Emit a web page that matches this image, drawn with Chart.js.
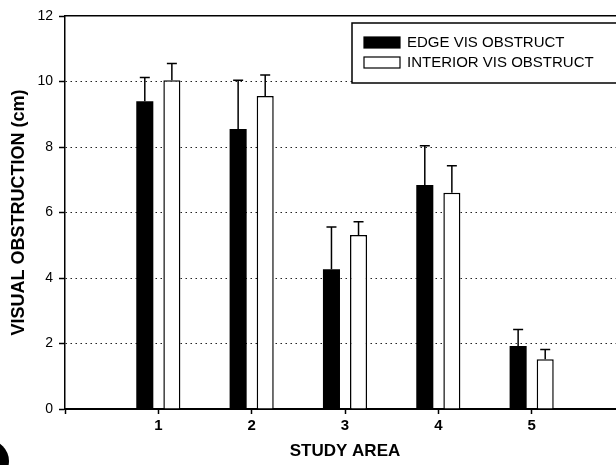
<!DOCTYPE html>
<html>
<head>
<meta charset="utf-8">
<script src="https://cdn.jsdelivr.net/npm/chart.js@4/dist/chart.umd.min.js"></script>
<style>
  html, body { margin: 0; padding: 0; background: #fff; overflow: hidden; }
  #wrap { width: 640px; height: 465px; }
</style>
</head>
<body>
<div id="wrap"><canvas id="barChart"></canvas></div>
<script>
// study areas and means (cm)
const studyAreas = [1, 2, 3, 4, 5];
const edgeMeans = [9.4, 8.55, 4.27, 6.84, 1.92];
const edgeErr = [0.72, 1.49, 1.29, 1.2, 0.51];
const interiorMeans = [10.04, 9.56, 5.31, 6.6, 1.52];
const interiorErr = [0.51, 0.64, 0.41, 0.83, 0.3];
const yTicks = [0, 2, 4, 6, 8, 10, 12];

const FONT = '"Liberation Sans", Arial, sans-serif';
const errors = [edgeErr, interiorErr];

// upper whiskers only
const errorBars = {
  id: 'errorBars',
  afterDatasetsDraw(chart) {
    const c = chart.ctx;
    const yScale = chart.scales.y;
    c.save();
    c.strokeStyle = '#000';
    c.lineWidth = 1.5;
    chart.data.datasets.forEach((ds, d) => {
      chart.getDatasetMeta(d).data.forEach((bar, i) => {
        const top = yScale.getPixelForValue(ds.data[i].y + errors[d][i]);
        c.beginPath();
        c.moveTo(bar.x, bar.y);
        c.lineTo(bar.x, top);
        c.moveTo(bar.x - 5, top);
        c.lineTo(bar.x + 5, top);
        c.stroke();
      });
    });
    c.restore();
  }
};

// boxed legend in the top right corner
const boxLegend = {
  id: 'boxLegend',
  afterDraw(chart) {
    const c = chart.ctx;
    const area = chart.chartArea;
    const x = 352, y = area.top + 7, w = area.right - 8 - x, h = 60;
    c.save();
    c.fillStyle = '#fff';
    c.fillRect(x, y, w, h);
    c.strokeStyle = '#000';
    c.lineWidth = 1.5;
    c.strokeRect(x, y, w, h);
    c.font = '15px ' + FONT;
    c.textBaseline = 'middle';
    chart.data.datasets.forEach((ds, i) => {
      const ry = y + 20 + i * 20;
      c.fillStyle = ds.backgroundColor;
      c.fillRect(x + 12, ry - 6, 36, 11);
      c.lineWidth = 1.2;
      c.strokeRect(x + 12, ry - 6, 36, 11);
      c.fillStyle = '#000';
      c.fillText(ds.label, x + 55, ry);
    });
    // scan smudge at lower left of the original
    c.beginPath();
    c.arc(-12, 461, 21, 0, Math.PI * 2);
    c.fill();
    c.restore();
  }
};

new Chart(document.getElementById('barChart'), {
  type: 'bar',
  data: {
    datasets: [{
      label: 'EDGE VIS OBSTRUCT',
      backgroundColor: '#000',
      borderColor: '#000',
      borderWidth: 0,
      data: studyAreas.map((a, i) => ({ x: a, y: edgeMeans[i] }))
    }, {
      label: 'INTERIOR VIS OBSTRUCT',
      backgroundColor: '#fff',
      borderColor: '#000',
      borderWidth: 1.5,
      data: studyAreas.map((a, i) => ({ x: a, y: interiorMeans[i] }))
    }]
  },
  options: {
    responsive: true,
    maintainAspectRatio: false,
    animation: false,
    categoryPercentage: 0.58,
    barPercentage: 0.63,
    layout: { padding: { left: 0, right: 15, top: 0, bottom: 0 } },
    plugins: { legend: { display: false }, tooltip: { enabled: false } },
    scales: {
      x: {
        type: 'linear',
        position: 'bottom',
        min: 0,
        max: 6,
        offset: false,
        afterFit: s => { s.height = 56; },
        ticks: {
          stepSize: 1,
          color: '#000',
          padding: 3,
          font: { family: FONT, size: 15, weight: 'bold' },
          callback: v => (v >= 1 && v <= 5 ? v : '')
        },
        grid: { offset: false, drawOnChartArea: false, tickLength: 5, tickColor: '#000', tickWidth: 1.5 },
        border: { color: '#000', width: 2 },
        title: {
          display: true,
          text: 'STUDY AREA',
          color: '#000',
          font: { family: FONT, size: 17, weight: 'bold' },
          padding: { top: 0, bottom: 3 }
        }
      },
      xTop: {
        type: 'linear',
        position: 'top',
        min: 0,
        max: 6,
        afterFit: s => { s.height = 16; },
        ticks: { display: false },
        grid: { display: false },
        border: { display: true, color: '#000', width: 1.5 }
      },
      y: {
        min: 0,
        max: 12,
        afterFit: s => { s.width = 65; },
        afterBuildTicks: s => { s.ticks = yTicks.map(v => ({ value: v })); },
        ticks: {
          color: '#000',
          padding: 6,
          font: { family: FONT, size: 14 }
        },
        grid: {
          color: c => (c.tick && c.tick.value > 0 && c.tick.value < 12 ? '#222' : 'rgba(0,0,0,0)'),
          lineWidth: 1,
          tickLength: 6,
          tickColor: '#000',
          tickWidth: 1.5
        },
        border: { color: '#000', width: 1.5, dash: [1.5, 3.5] },
        title: {
          display: true,
          text: 'VISUAL OBSTRUCTION (cm)',
          color: '#000',
          font: { family: FONT, size: 18, weight: 'bold' },
          padding: { top: 8, bottom: 0 }
        }
      }
    }
  },
  plugins: [errorBars, boxLegend]
});
</script>
</body>
</html>
